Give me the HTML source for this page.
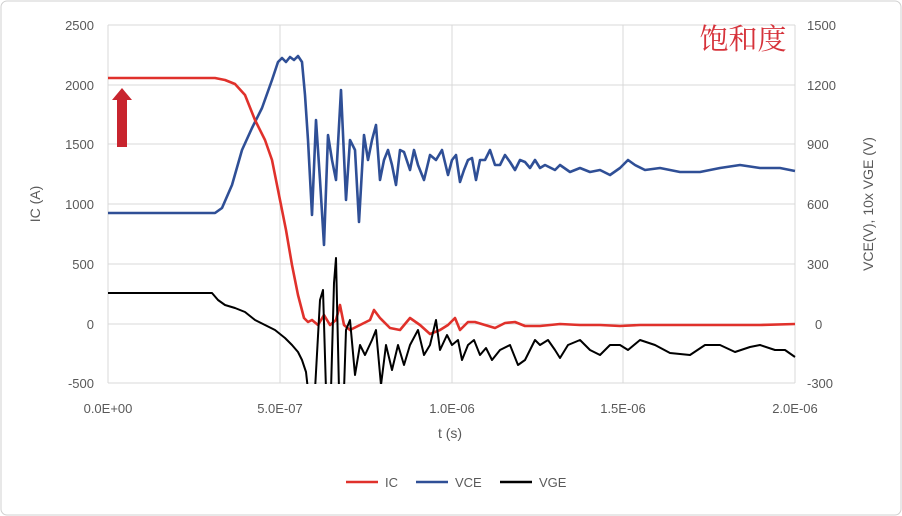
<!DOCTYPE html>
<html><head><meta charset="utf-8"><style>
html,body{margin:0;padding:0;background:#fff}
svg{display:block;font-family:"Liberation Sans","Noto Sans CJK SC",sans-serif}
</style></head><body>
<svg width="902" height="516" viewBox="0 0 902 516" xmlns="http://www.w3.org/2000/svg">
<rect x="1" y="1" width="900" height="514" rx="6" fill="#fff" stroke="#d0d0d0"/>
<defs><clipPath id="c"><rect x="108" y="20" width="688" height="364"/></clipPath></defs>
<g stroke="#d9d9d9" stroke-width="1">
<line x1="108" y1="25" x2="795" y2="25"/><line x1="108" y1="85" x2="795" y2="85"/>
<line x1="108" y1="144" x2="795" y2="144"/><line x1="108" y1="204" x2="795" y2="204"/>
<line x1="108" y1="264" x2="795" y2="264"/><line x1="108" y1="324" x2="795" y2="324"/>
<line x1="108" y1="383" x2="795" y2="383"/>
<line x1="108" y1="25" x2="108" y2="383"/><line x1="280" y1="25" x2="280" y2="383"/>
<line x1="452" y1="25" x2="452" y2="383"/><line x1="623" y1="25" x2="623" y2="383"/>
<line x1="795" y1="25" x2="795" y2="383"/>
</g>
<g font-size="13" fill="#595959">
<g text-anchor="end">
<text x="94" y="30">2500</text><text x="94" y="90">2000</text><text x="94" y="149">1500</text>
<text x="94" y="209">1000</text><text x="94" y="269">500</text><text x="94" y="329">0</text><text x="94" y="388">-500</text>
</g>
<g text-anchor="start">
<text x="807" y="30">1500</text><text x="807" y="90">1200</text><text x="807" y="149">900</text>
<text x="807" y="209">600</text><text x="807" y="269">300</text><text x="815" y="329">0</text><text x="807" y="388">-300</text>
</g>
<g text-anchor="middle">
<text x="108" y="413">0.0E+00</text><text x="280" y="413">5.0E-07</text><text x="452" y="413">1.0E-06</text>
<text x="623" y="413">1.5E-06</text><text x="795" y="413">2.0E-06</text>
<text x="450" y="438" font-size="14">t (s)</text>
<text transform="translate(40,204) rotate(-90)" font-size="14">IC (A)</text>
<text transform="translate(873,204) rotate(-90)" font-size="14">VCE(V), 10x VGE (V)</text>
</g>
</g>
<text x="743" y="49" font-size="29" fill="#d6323a" text-anchor="middle" font-family="Noto Serif CJK SC,serif">饱和度</text>
<polygon points="117,147 127,147 127,100 132,100 122,88 112,100 117,100" fill="#c8242e"/>
<g clip-path="url(#c)" fill="none" stroke-width="2.6" stroke-linejoin="round">
<polyline stroke="#2f4f96" points="108,213 215,213 222,208 232,185 242,150 252,128 262,108 272,80 278,62 282,58 286,62 290,57 294,60 298,56 302,62 305,95 308,140 312,215 316,120 320,180 324,245 328,135 332,160 336,180 341,90 346,200 350,140 355,150 359,222 364,135 368,160 372,140 376,125 380,180 384,160 388,150 392,165 396,185 400,150 404,152 410,170 414,150 418,165 424,180 430,155 436,160 442,150 448,175 452,160 456,155 460,182 464,170 468,160 472,158 476,180 480,160 485,160 490,150 495,165 500,165 505,155 510,162 515,170 520,160 525,162 530,168 535,160 540,168 545,165 555,170 560,165 570,172 580,168 590,172 600,170 610,175 620,168 628,160 635,165 645,170 660,168 680,172 700,172 720,168 740,165 760,168 780,168 795,171"/>
<polyline stroke="#e0312b" points="108,78 215,78 225,80 235,84 245,95 255,120 265,140 272,160 280,200 286,230 292,265 298,295 304,318 308,322 312,320 318,325 324,315 330,325 336,320 340,305 344,325 350,330 360,325 370,320 374,310 380,318 390,328 400,330 410,318 420,325 430,334 440,330 448,325 455,318 460,330 468,322 475,322 485,325 495,328 505,323 515,322 525,326 540,326 560,324 580,325 600,325 620,326 640,325 680,325 720,325 760,325 795,324"/>
<polyline stroke="#000" stroke-width="2" points="108,293 212,293 218,300 225,305 235,308 245,312 255,320 265,325 275,330 285,338 292,345 298,352 302,360 306,372 308,390 315,390 320,300 323,290 326,390 331,390 334,283 336,258 339,390 344,390 346,330 350,320 355,375 360,345 365,355 372,340 376,330 381,385 386,345 392,370 398,345 404,365 410,345 418,330 424,355 430,345 436,320 440,350 447,335 452,345 458,340 462,360 468,345 474,340 480,355 486,348 492,360 500,350 510,345 518,365 525,360 535,340 540,345 548,340 555,350 560,358 568,345 580,340 590,350 600,355 610,345 620,345 628,350 640,340 655,345 670,353 690,355 705,345 720,345 735,352 750,347 760,345 775,350 785,350 795,357"/>
</g>
<g font-size="13" fill="#595959" stroke-width="2.6">
<line x1="346" y1="482" x2="378" y2="482" stroke="#e0312b"/><text x="385" y="487">IC</text>
<line x1="416" y1="482" x2="448" y2="482" stroke="#2f4f96"/><text x="455" y="487">VCE</text>
<line x1="500" y1="482" x2="532" y2="482" stroke="#000"/><text x="539" y="487">VGE</text>
</g>
</svg>
</body></html>
